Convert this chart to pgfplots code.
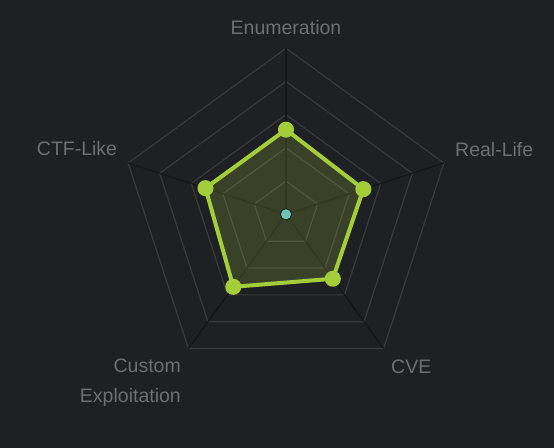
\documentclass[border=0pt]{standalone}
\usepackage{pgfplots}
\pgfplotsset{compat=1.18}
\usepgfplotslibrary{polar}
\usepackage{fontspec}
\setmainfont{Liberation Sans}
\definecolor{bg}{HTML}{1F2024}
\definecolor{gridc}{HTML}{393A3E}
\definecolor{spoke}{HTML}{151619}
\definecolor{lime}{HTML}{A5CD3A}
\definecolor{tealdot}{HTML}{72C1B5}
\definecolor{lbl}{HTML}{6E6F71}
\begin{document}
\begin{tikzpicture}
\fill[bg] (-286bp,-233.7bp) rectangle (268bp,214.3bp);
\useasboundingbox (-286bp,-233.7bp) rectangle (268bp,214.3bp);
\begin{polaraxis}[
  at={(0,0)}, anchor=center,
  width=332bp, height=332bp, scale only axis,
  ymin=0, ymax=100, hide axis, clip=false,
]
% grid pentagons
\addplot[gridc, line width=1.2bp, no markers] coordinates {(90,20)(18,20)(-54,20)(-126,20)(162,20)} -- cycle;
\addplot[gridc, line width=1.2bp, no markers] coordinates {(90,40)(18,40)(-54,40)(-126,40)(162,40)} -- cycle;
\addplot[gridc, line width=1.2bp, no markers] coordinates {(90,60)(18,60)(-54,60)(-126,60)(162,60)} -- cycle;
\addplot[gridc, line width=1.2bp, no markers] coordinates {(90,80)(18,80)(-54,80)(-126,80)(162,80)} -- cycle;
\addplot[gridc, line width=1.2bp, no markers] coordinates {(90,100)(18,100)(-54,100)(-126,100)(162,100)} -- cycle;
% spokes
\addplot[spoke, line width=1.2bp, no markers] coordinates {(90,0)(90,100)};
\addplot[spoke, line width=1.2bp, no markers] coordinates {(18,0)(18,100)};
\addplot[spoke, line width=1.2bp, no markers] coordinates {(-54,0)(-54,100)};
\addplot[spoke, line width=1.2bp, no markers] coordinates {(-126,0)(-126,100)};
\addplot[spoke, line width=1.2bp, no markers] coordinates {(162,0)(162,100)};
% data series
\addplot[draw=none, fill=lime, fill opacity=0.2, no markers] coordinates {(90,51)(18,49)(-54,48)(-126,54)(162,51)} -- cycle;
\addplot[lime, line width=4bp, line join=round, mark=*, mark size=6bp, mark options={solid, draw=none, fill=lime}] coordinates {(90,51)(18,49)(-54,48)(-126,54)(162,51)} -- cycle;
% second series (all zero)
\addplot[only marks, mark=*, mark size=5.5bp, mark options={draw=none, fill=tealdot}] coordinates {(90,0)(18,0)(-54,0)(-126,0)(162,0)};
\end{polaraxis}
\begin{scope}[every node/.style={inner sep=0pt, text=lbl, font=\fontsize{19.5bp}{23bp}\selectfont}]
\node[anchor=base] at (0bp,179.3bp) {Enumeration};
\node[anchor=base west] at (169bp,57.6bp) {Real-Life};
\node[anchor=base east] at (-168.7bp,58.6bp) {CTF-Like};
\node[anchor=base west] at (105bp,-158.7bp) {CVE};
\node[anchor=base east] at (-105bp,-158bp) {Custom};
\node[anchor=base east] at (-105bp,-187.7bp) {Exploitation};
\end{scope}
\end{tikzpicture}
\end{document}
